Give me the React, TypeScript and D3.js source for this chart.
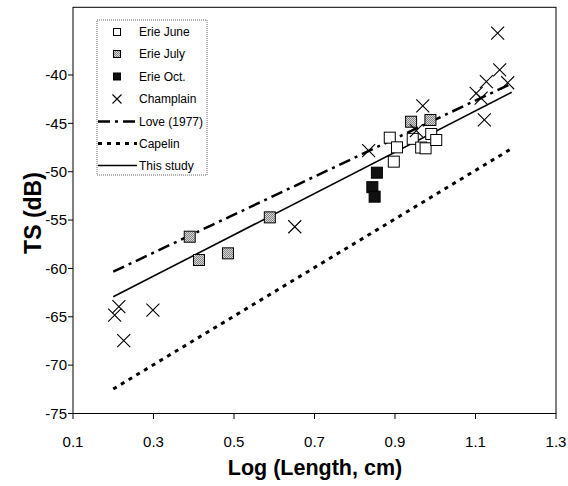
import React from "react";
import * as d3 from "d3";

// ---- data ----
const xTicks = [0.1, 0.3, 0.5, 0.7, 0.9, 1.1, 1.3];
const yTicks = [-75, -70, -65, -60, -55, -50, -45, -40];

const erieJuneX = [0.887, 0.905, 0.897, 0.944, 0.965, 0.976, 0.99, 1.0025];
const erieJuneY = [-46.48, -47.48, -48.96, -46.6, -47.5, -47.58, -46.1, -46.72];

const erieJulyX = [0.39, 0.413, 0.485, 0.589, 0.94, 0.988];
const erieJulyY = [-56.72, -59.13, -58.44, -54.72, -44.83, -44.65];

const erieOctX = [0.855, 0.8437, 0.8494];
const erieOctY = [-50.1, -51.6, -52.58];

const champlainX = [0.2035, 0.214, 0.2985, 0.226, 0.651, 0.8345, 0.953, 0.969, 1.1017, 1.114, 1.122, 1.127, 1.16, 1.18, 1.155];
const champlainY = [-64.82, -63.96, -64.3, -67.47, -55.69, -47.83, -45.76, -43.2, -41.9, -42.4, -44.65, -40.69, -39.48, -40.8, -35.66];

const loveX = [0.2, 1.19];
const loveY = [-60.34, -40.87];
const capelinX = [0.2, 1.19];
const capelinY = [-72.47, -47.6];
const studyX = [0.2, 1.19];
const studyY = [-62.93, -41.79];

const legendLabels = ["Erie June", "Erie July", "Erie Oct.", "Champlain", "Love (1977)", "Capelin", "This study"];

const FONT = "'Liberation Sans', Arial, sans-serif";

export default function App() {
  const x = d3.scaleLinear().domain([0.1, 1.3]).range([73, 556]);
  const y = d3.scaleLinear().domain([-75, -33]).range([413.5, 7.3]);
  const line = d3.line<[number, number]>().x((d) => x(d[0])).y((d) => y(d[1]));
  const pts = (xs: number[], ys: number[]) => xs.map((v, i) => [v, ys[i]] as [number, number]);

  const sq = 11;
  const xs = 6.5;

  const square = (px: number, py: number, fill: string, key: string, s = sq) => (
    <rect key={key} x={px - s / 2} y={py - s / 2} width={s} height={s} fill={fill} stroke="#000" strokeWidth={1} />
  );
  const cross = (px: number, py: number, key: string, h = xs) => (
    <path key={key} d={`M${px - h},${py - h}L${px + h},${py + h}M${px - h},${py + h}L${px + h},${py - h}`} stroke="#000" strokeWidth={1.1} fill="none" />
  );

  const lx0 = 98, lx1 = 137, lmx = 117, ltx = 139;
  const ly = [32, 54, 76.5, 99, 121.5, 143.5, 165.5];

  return (
    <svg width={568} height={486} style={{ position: "absolute", left: 0, top: 0, background: "#fff" }} fontFamily={FONT}>
      <defs>
        <pattern id="chk" width={2} height={2} patternUnits="userSpaceOnUse">
          <rect width={2} height={2} fill="#d8d8d8" />
          <rect width={1} height={1} fill="#808080" />
          <rect x={1} y={1} width={1} height={1} fill="#808080" />
        </pattern>
      </defs>
      <rect width={568} height={486} fill="#fff" />
      {/* frame */}
      <rect x={73} y={7.3} width={556 - 73} height={413.5 - 7.3} fill="none" stroke="#000" strokeWidth={1} />
      {/* y ticks */}
      {yTicks.map((t) => (
        <g key={"y" + t}>
          <line x1={68} x2={73} y1={y(t)} y2={y(t)} stroke="#000" />
          <text x={67} y={y(t)} dy="0.35em" textAnchor="end" fontSize={15}>{t}</text>
        </g>
      ))}
      {xTicks.map((t) => (
        <g key={"x" + t}>
          <line x1={x(t)} x2={x(t)} y1={413.5} y2={419} stroke="#000" />
          <text x={x(t)} y={447} textAnchor="middle" fontSize={15}>{t.toFixed(1)}</text>
        </g>
      ))}
      <text x={315} y={475} textAnchor="middle" fontSize={21.5} fontWeight="bold">Log (Length, cm)</text>
      <text transform="translate(41,213) rotate(-90)" textAnchor="middle" fontSize={23} fontWeight="bold">TS (dB)</text>

      {/* lines */}
      <path d={line(pts(loveX, loveY)) || ""} stroke="#000" strokeWidth={2.5} fill="none" strokeDasharray="12 5 3 5" />
      <path d={line(pts(capelinX, capelinY)) || ""} stroke="#000" strokeWidth={3} fill="none" strokeDasharray="4 5" />
      <path d={line(pts(studyX, studyY)) || ""} stroke="#000" strokeWidth={1.6} fill="none" />

      {/* markers */}
      {erieJuneX.map((v, i) => square(x(v), y(erieJuneY[i]), "#fff", "j" + i))}
      {erieJulyX.map((v, i) => square(x(v), y(erieJulyY[i]), "url(#chk)", "u" + i))}
      {erieOctX.map((v, i) => square(x(v), y(erieOctY[i]), "#111", "o" + i))}
      {champlainX.map((v, i) => cross(x(v), y(champlainY[i]), "c" + i))}

      {/* legend */}
      <rect x={97} y={20} width={110} height={155} fill="#fff" stroke="#666" strokeWidth={1} strokeDasharray="1 1" />
      {square(lmx, ly[0], "#fff", "lj", 7)}
      {square(lmx, ly[1], "url(#chk)", "lu", 7)}
      {square(lmx, ly[2], "#111", "lo", 7)}
      {cross(lmx, ly[3], "lc", 4.5)}
      <line x1={lx0} x2={lx1} y1={ly[4]} y2={ly[4]} stroke="#000" strokeWidth={2.5} strokeDasharray="12 5 3 5" />
      <line x1={lx0} x2={lx1} y1={ly[5]} y2={ly[5]} stroke="#000" strokeWidth={3} strokeDasharray="4 5" />
      <line x1={lx0} x2={lx1} y1={ly[6]} y2={ly[6]} stroke="#000" strokeWidth={1.6} />
      {legendLabels.map((l, i) => (
        <text key={l} x={ltx} y={ly[i]} dy="0.35em" fontSize={12}>{l}</text>
      ))}
    </svg>
  );
}
